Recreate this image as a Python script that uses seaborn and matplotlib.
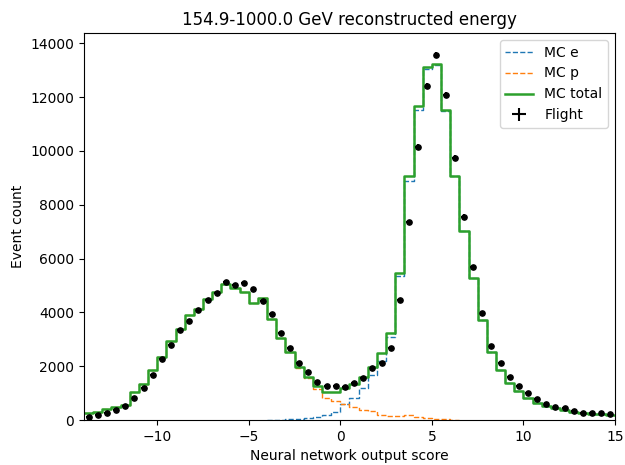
import numpy as np
import pandas as pd
import matplotlib
matplotlib.use("Agg")
import matplotlib.pyplot as plt
import seaborn as sns
from matplotlib.lines import Line2D

nan = np.nan

# bin edges: 58 bins of width 0.5 from -14 to 15
bin_edges = np.linspace(-14, 15, 59)

flight = [123, 174, 249, 360, 509, 828, 1200, 1671, 2265, 2773,
          3330, 3676, 4085, 4456, 4703, 5120, 5020, 5100, 4860, 4410,
          3925, 3242, 2686, 2104, 1770, 1424, 1275, 1275, 1238, 1362,
          1548, 1919, 2104, 2670, 4456, 7364, 10149, 12414, 13554, 12068,
          9740, 7550, 5670, 3985, 2748, 2104, 1609, 1263, 990, 780,
          582, 495, 433, 346, 272, 272, 248, 223]

mc_total = [248, 309, 396, 495, 557, 1052, 1325, 1857, 2352, 2934,
            3392, 3887, 4122, 4493, 4760, 5050, 4900, 4750, 4356, 4540,
            3745, 3065, 2537, 1980, 1609, 1263, 1028, 1028, 1176, 1337,
            1609, 1980, 2476, 3219, 5470, 9072, 11671, 13120, 13245, 11511,
            9072, 7018, 5270, 3713, 2520, 1857, 1386, 1077, 805, 644,
            520, 433, 371, 309, 272, 223, 211, 186]

mc_e = [nan, nan, nan, nan, nan, nan, nan, nan, nan, nan,
        nan, nan, nan, nan, nan, nan, nan, nan, nan, nan,
        8, 15, 25, 40, 60, 124, 200, 310, 600, 805,
        1200, 1671, 2200, 3070, 5347, 8886, 11537, 13034, 13200, 11480,
        9060, 7010, 5265, 3710, 2518, 1856, 1385, 1077, 805, 644,
        520, 433, 371, 309, 272, 223, 211, 186]

mc_p = [248, 309, 396, 495, 557, 1052, 1325, 1857, 2352, 2934,
        3392, 3887, 4122, 4493, 4760, 5050, 4900, 4750, 4356, 4540,
        3737, 3050, 2510, 1940, 1550, 1139, 805, 718, 590, 495,
        371, 346, 180, 149, 149, 173, 124, 87, 37, 25,
        12, nan, nan, nan, nan, nan, nan, nan, nan, nan,
        nan, nan, nan, nan, nan, nan, nan, nan]

centers = 0.5 * (bin_edges[:-1] + bin_edges[1:])

fig, ax = plt.subplots(figsize=(6.25, 4.65), dpi=100)


def step_hist(values, color, ls, lw):
    v = np.asarray(values, dtype=float)
    idx = np.where(np.isfinite(v))[0]
    i0, i1 = idx[0], idx[-1]
    df = pd.DataFrame({"score": centers[i0:i1 + 1], "count": v[i0:i1 + 1]})
    sns.histplot(data=df, x="score", weights="count",
                 binwidth=0.5, binrange=(bin_edges[i0], bin_edges[i1 + 1]),
                 element="step", fill=False,
                 color=color, linestyle=ls, linewidth=lw, ax=ax)


step_hist(mc_e, "#1f77b4", "--", 1.0)
step_hist(mc_p, "#ff7f0e", "--", 1.0)
step_hist(mc_total, "#2ca02c", "-", 1.8)

fl = np.asarray(flight, dtype=float)
ax.errorbar(centers, fl, yerr=np.sqrt(fl), xerr=0.15, fmt="o",
            color="k", ms=3.8, elinewidth=1.5, capsize=0, zorder=5)

ax.set_xlim(-14, 15)
ax.set_ylim(0, 14380)
ax.set_xlabel("Neural network output score")
ax.set_ylabel("Event count")
ax.set_title("154.9-1000.0 GeV reconstructed energy")

handles = [
    Line2D([], [], color="#1f77b4", ls="--", lw=1.0),
    Line2D([], [], color="#ff7f0e", ls="--", lw=1.0),
    Line2D([], [], color="#2ca02c", ls="-", lw=1.8),
    ax.errorbar([], [], yerr=[], xerr=[], fmt="none", color="k", elinewidth=1.5),
]
ax.legend(handles, ["MC e", "MC p", "MC total", "Flight"], loc="upper right")

fig.subplots_adjust(left=84 / 625, right=615 / 625,
                    top=1 - 33 / 465, bottom=1 - 420 / 465)
fig.savefig("out.png", dpi=100)
